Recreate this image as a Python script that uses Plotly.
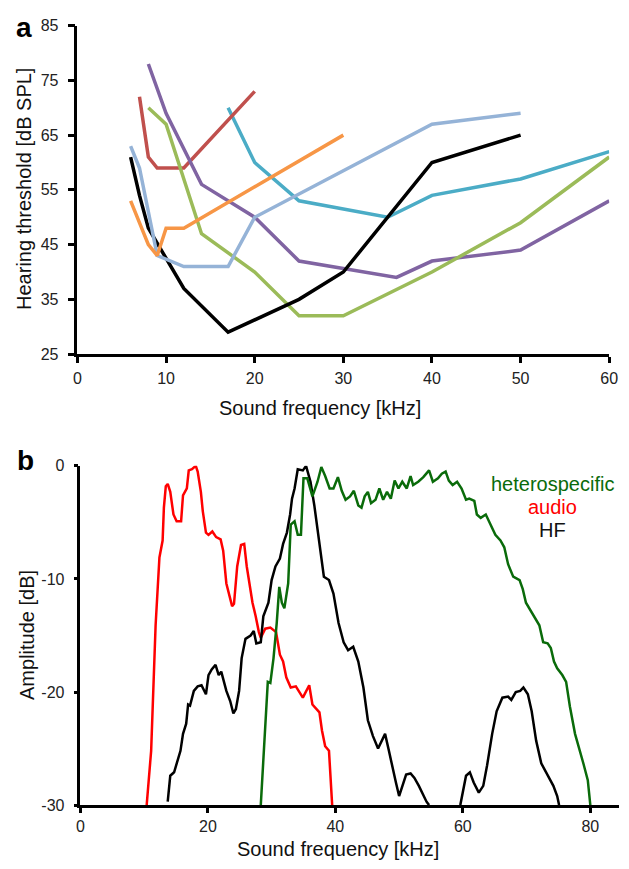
import plotly.graph_objects as go

W, H = 629, 869

# ---------------- Panel a: hearing thresholds ----------------
black_x = [6, 7, 8, 12, 17, 25, 30, 40, 50]
black_y = [61, 54, 48, 37, 29, 35, 40, 60, 65]

red_x = [7, 8, 9, 12, 20]
red_y = [72, 61, 59, 59, 73]

purple_x = [8, 10, 14, 20, 25, 36, 40, 50, 60]
purple_y = [78, 69, 56, 50, 42, 39, 42, 44, 53]

green_x = [8, 10, 14, 20, 25, 30, 40, 50, 60]
green_y = [70, 67, 47, 40, 32, 32, 40, 49, 61]

orange_x = [6, 8, 9, 10, 12, 30]
orange_y = [53, 45, 43, 48, 48, 65]

lightblue_x = [6, 7, 9, 12, 17, 20, 40, 50]
lightblue_y = [63, 59, 43, 41, 41, 50, 67, 69]

teal_x = [17, 20, 25, 35, 40, 50, 60]
teal_y = [70, 60, 53, 50, 54, 57, 62]

a_xticks = [0, 10, 20, 30, 40, 50, 60]
a_yticks = [25, 35, 45, 55, 65, 75, 85]

# ---------------- Panel b: spectra ----------------
audio_f = [10.4, 11.1, 11.8, 12.4, 12.9, 13.1, 13.4, 13.7, 14.1, 14.6,
           15.1, 15.8, 16.1, 16.7, 17.0, 17.5, 18.1, 18.4, 18.9, 19.2,
           19.7, 20.1, 20.7, 21.3, 22.0, 22.4, 22.9, 23.3, 23.8, 24.1,
           24.6, 25.2, 25.7, 26.1, 26.7, 27.0, 27.5, 28.0, 28.3, 29.0,
           29.8, 30.7, 31.3, 31.8, 32.3, 33.0, 33.8, 34.4, 34.9, 35.9,
           36.4, 37.5, 37.9, 38.4, 39.0, 39.5]
audio_a = [-30.0, -25.2, -14.1, -8.1, -6.6, -3.7, -1.8, -1.6, -2.3, -4.3,
           -4.9, -4.9, -2.6, -2.0, -0.4, -0.3, 0.0, -0.5, -2.3, -4.0,
           -5.9, -6.1, -5.8, -6.3, -6.5, -7.5, -10.4, -11.3, -12.4, -12.2,
           -8.9, -7.0, -6.9, -8.9, -10.9, -12.1, -13.3, -14.7, -15.2, -14.4,
           -14.3, -14.7, -16.7, -17.3, -18.7, -19.6, -19.5, -20.0, -20.5, -19.4,
           -21.1, -21.8, -23.4, -24.8, -25.2, -30.0]

hf1_f = [13.7, 14.1, 14.7, 15.2, 15.7, 16.1, 16.6, 16.9, 17.2, 17.8,
         18.4, 19.0, 19.7, 20.1, 20.6, 21.2, 21.7, 22.1, 22.9, 23.5,
         24.0, 24.4, 24.9, 25.3, 25.9, 26.7, 27.2, 27.6, 28.3, 28.7,
         29.5, 30.0, 30.6, 31.3, 31.8, 32.4, 32.9, 33.2, 33.6, 34.1,
         34.9, 35.4, 36.1, 36.7, 37.2, 37.6, 38.2, 39.0, 39.7, 40.5,
         41.3, 42.0, 42.8, 43.6, 44.4, 45.1, 45.9, 46.7, 47.3, 47.8,
         48.4, 49.0, 49.5, 50.0, 50.5, 51.1, 51.8, 52.4, 53.1, 53.8,
         54.3, 54.7]
hf1_a = [-29.7, -27.4, -27.1, -26.1, -25.2, -23.7, -22.8, -21.1, -21.2, -19.9,
         -19.5, -19.4, -20.2, -18.5, -18.0, -17.6, -18.5, -18.2, -19.9, -20.8,
         -21.9, -21.5, -19.9, -17.0, -15.3, -15.0, -14.6, -15.7, -15.6, -13.3,
         -12.1, -10.1, -8.9, -8.2, -6.9, -5.9, -4.3, -2.9, -2.0, -0.3,
         -0.4, 0.0, -1.4, -3.5, -5.7, -7.5, -9.8, -10.1, -11.3, -13.9,
         -15.6, -16.3, -16.0, -17.3, -19.6, -22.5, -23.9, -25.0, -24.3, -23.7,
         -25.2, -26.9, -28.0, -29.2, -28.3, -27.3, -27.2, -27.6, -28.3, -29.2,
         -29.7, -30.0]

hf2_f = [59.6, 60.0, 60.5, 61.1, 61.7, 62.5, 63.2, 63.8, 64.6, 65.3,
         66.2, 67.1, 67.6, 68.3, 69.0, 69.5, 70.2, 70.8, 71.5, 72.3,
         73.3, 74.2, 74.8, 75.1]
hf2_a = [-30.0, -28.9, -27.4, -27.1, -28.0, -28.9, -28.3, -26.5, -23.7, -21.7,
         -20.5, -20.4, -20.7, -20.0, -19.9, -19.6, -20.2, -21.7, -24.3, -26.3,
         -27.4, -28.3, -29.2, -30.0]

het_f = [28.3, 28.9, 29.4, 29.8, 30.3, 30.8, 31.2, 31.6, 32.0, 32.6,
         33.0, 33.6, 34.1, 34.6, 35.0, 35.6, 36.4, 37.2, 37.8, 38.4,
         39.1, 39.7, 40.4, 41.0, 41.6, 42.3, 42.9, 43.6, 44.1, 44.6,
         45.1, 45.6, 46.3, 46.9, 47.5, 48.1, 48.7, 49.3, 49.9, 50.5,
         51.2, 51.8, 52.2, 53.0, 53.8, 54.7, 55.3, 56.1, 56.7, 57.3,
         57.8, 58.4, 59.1, 59.8, 60.5, 61.0, 61.8, 62.2, 62.8, 63.6,
         64.1, 64.5, 65.1, 65.9, 66.5, 67.1, 67.9, 68.9, 69.4, 69.9,
         70.5, 71.2, 72.0, 72.6, 73.3, 73.8, 74.3, 74.8, 75.6, 76.2,
         76.8, 77.6, 78.2, 78.9, 79.6, 80.0]
het_a = [-30.0, -23.9, -19.1, -19.2, -17.0, -13.9, -10.7, -12.1, -12.6, -10.4,
         -5.2, -4.9, -6.1, -6.1, -1.1, -1.1, -2.7, -1.4, -0.1, -0.9,
         -2.0, -2.0, -1.0, -2.2, -3.0, -2.7, -2.2, -3.5, -3.7, -2.7,
         -2.3, -3.3, -3.0, -2.0, -3.0, -2.3, -2.9, -1.3, -2.0, -1.4,
         -2.0, -0.9, -1.7, -1.4, -1.0, -0.4, -1.4, -1.1, -0.7, -0.5,
         -1.3, -1.7, -1.4, -2.0, -3.0, -2.9, -3.1, -4.3, -4.6, -4.3,
         -4.9, -5.3, -6.1, -6.6, -7.2, -8.7, -9.8, -10.1, -10.9, -12.1,
         -12.7, -13.3, -14.1, -15.6, -15.7, -16.1, -17.3, -17.9, -18.5, -19.1,
         -21.3, -23.7, -24.8, -26.3, -27.8, -30.0]

b_xticks = [0, 20, 40, 60, 80]
b_yticks = [-30, -20, -10, 0]
b_yticklabels = ["-30", "-20", "-10", "0"]

legend_labels = ["heterospecific", "audio", "HF"]

# ---------------- Figure ----------------
FONT = "Liberation Sans, Arial, sans-serif"
fig = go.Figure()

a_series = [
    (teal_x, teal_y, "#4bacc6"),
    (red_x, red_y, "#c0504d"),
    (purple_x, purple_y, "#8064a2"),
    (green_x, green_y, "#9bbb59"),
    (black_x, black_y, "#000000"),
    (lightblue_x, lightblue_y, "#95b3d7"),
    (orange_x, orange_y, "#f79646"),
]
for xs, ys, c in a_series:
    fig.add_trace(go.Scatter(x=xs, y=ys, mode="lines", xaxis="x", yaxis="y",
                             line=dict(color=c, width=3.5), showlegend=False,
                             hoverinfo="skip"))

GREEN_B = "#0a6b0a"
b_series = [
    (audio_f, audio_a, "#ff0000"),
    (hf1_f, hf1_a, "#000000"),
    (hf2_f, hf2_a, "#000000"),
    (het_f, het_a, GREEN_B),
]
for xs, ys, c in b_series:
    fig.add_trace(go.Scatter(x=xs, y=ys, mode="lines", xaxis="x2", yaxis="y2",
                             line=dict(color=c, width=2.5), showlegend=False,
                             hoverinfo="skip"))

axis_common = dict(showline=True, linecolor="black", linewidth=2.5,
                   ticks="outside", tickcolor="black", tickwidth=2.5,
                   showgrid=False, zeroline=False,
                   tickfont=dict(family=FONT, size=16, color="#222"))

fig.update_layout(
    width=W, height=H,
    margin=dict(l=0, r=0, t=0, b=0),
    paper_bgcolor="white", plot_bgcolor="white",
    xaxis=dict(domain=[75 / W, 618 / W], range=[0, 60], tickvals=a_xticks,
               anchor="y", ticklen=6, ticklabelstandoff=2, **axis_common),
    yaxis=dict(domain=[1 - 353 / H, 1 - 18 / H], range=[25, 85], tickvals=a_yticks,
               anchor="x", ticklen=7, ticklabelstandoff=6, **axis_common),
    xaxis2=dict(domain=[78 / W, 628 / W], range=[0, 84.5], tickvals=b_xticks,
                anchor="y2", ticklen=5, ticklabelstandoff=0, **axis_common),
    yaxis2=dict(domain=[1 - 813 / H, 1 - 467 / H], range=[-30, 0], tickvals=b_yticks,
                ticktext=b_yticklabels,
                anchor="x2", ticklen=4, ticklabelstandoff=6, **axis_common),
)

def ann(text, px, py, size=20, color="#111", angle=0, bold=False, xanchor="center"):
    fig.add_annotation(text=f"<b>{text}</b>" if bold else text,
                       x=px / W, y=1 - py / H, xref="paper", yref="paper",
                       showarrow=False, textangle=angle, xanchor=xanchor, yanchor="middle",
                       font=dict(family=FONT, size=size, color=color))

ann("a", 20, 20, size=28, bold=True, color="black")
ann("b", 22, 462, size=28, bold=True, color="black")
ann("Hearing threshold [dB SPL]", 21, 185, angle=-90)
ann("Sound frequency [kHz]", 323, 408)
ann("Amplitude [dB]", 24, 640, angle=-90)
ann("Sound frequency [kHz]", 341, 858)

legend_colors = [GREEN_B, "#ff0000", "#111111"]
legend_y = [486, 509, 532]
for lab, col, ly in zip(legend_labels, legend_colors, legend_y):
    ann(lab, 560, ly, size=20, color=col)

fig.write_html("out.html")
